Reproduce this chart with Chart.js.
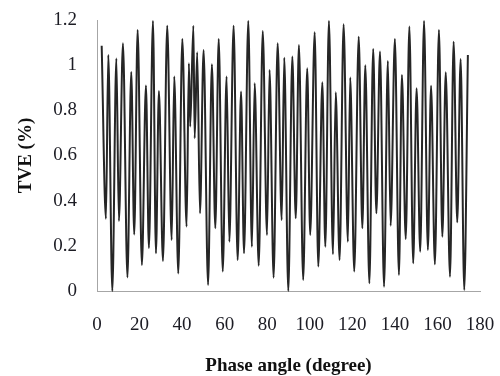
<!DOCTYPE html>
<html>
<head>
<meta charset="utf-8">
<script src="https://cdn.jsdelivr.net/npm/chart.js@4.4.1/dist/chart.umd.min.js"></script>
<style>
  html, body { margin: 0; padding: 0; background: #ffffff; }
  #wrap { width: 500px; height: 376px; }
</style>
</head>
<body>
<div id="wrap"><canvas id="tveChart" width="500" height="376"></canvas></div>
<script>
// Peaks and troughs
const phaseAngle = [2.2, 4.2, 5.3, 7.2, 9.1, 10.3, 12.2, 14.3, 16.1, 17.5,
    19.1, 21.1, 23.0, 24.4, 26.3, 27.7, 29.1, 31.0, 33.0, 35.1,
    36.3, 38.2, 40.1, 42.1, 43.2, 43.8, 45.3, 45.9, 47.1, 48.4,
    50.1, 52.2, 54.0, 55.6, 57.2, 59.1, 60.9, 62.2, 64.2, 66.1,
    67.7, 69.1, 71.1, 72.8, 74.1, 76.0, 77.9, 79.9, 81.1, 83.0,
    84.9, 86.8, 88.0, 89.9, 91.8, 93.4, 94.9, 96.9, 98.8, 100.2,
    102.3, 104.0, 105.9, 107.3, 109.0, 110.9, 112.2, 114.0, 115.9, 117.9,
    119.0, 120.9, 123.0, 124.7, 126.1, 128.0, 129.8, 131.3, 133.0, 134.9,
    136.7, 138.0, 140.0, 141.9, 143.3, 145.1, 146.8, 148.6, 150.2, 151.9,
    153.7, 155.5, 157.0, 158.8, 160.7, 162.3, 163.9, 165.9, 167.6, 169.3,
    170.9, 172.6, 174.3];

const tve = [1.086, 0.32, 1.045, 0.0, 1.03, 0.31, 1.097, 0.06, 0.97, 0.25,
    1.156, 0.115, 0.91, 0.19, 1.196, 0.167, 0.886, 0.133, 1.175, 0.226,
    0.95, 0.078, 1.116, 0.285, 1.008, 0.728, 1.175, 0.676, 1.057, 0.344,
    1.067, 0.027, 1.004, 0.278, 1.116, 0.086, 0.95, 0.218, 1.175, 0.137,
    0.883, 0.167, 1.196, 0.196, 0.92, 0.112, 1.151, 0.248, 0.979, 0.059,
    1.097, 0.314, 1.033, 0.0, 1.038, 0.322, 1.089, 0.049, 0.986, 0.248,
    1.146, 0.108, 0.924, 0.196, 1.196, 0.163, 0.88, 0.137, 1.181, 0.218,
    0.945, 0.086, 1.126, 0.278, 1.0, 0.034, 1.072, 0.344, 1.06, 0.019,
    1.019, 0.289, 1.116, 0.071, 0.957, 0.23, 1.171, 0.123, 0.898, 0.174,
    1.196, 0.182, 0.909, 0.118, 1.156, 0.24, 0.969, 0.063, 1.104, 0.304,
    1.027, 0.004, 1.045];

const xTicks = [0, 20, 40, 60, 80, 100, 120, 140, 160, 180];
const xTickLabels = ['0', '20', '40', '60', '80', '100', '120', '140', '160', '180'];
const yTicks = [0, 0.2, 0.4, 0.6, 0.8, 1, 1.2];
const yTickLabels = ['0', '0.2', '0.4', '0.6', '0.8', '1', '1.2'];

const serif = '"Liberation Serif", "Times New Roman", serif';
const textColor = '#1c1c24';
const axisColor = '#a6a6a6';

const points = phaseAngle.map((p, i) => ({ x: p, y: tve[i] }));

new Chart(document.getElementById('tveChart'), {
    type: 'line',
    data: {
        datasets: [{
            data: points,
            borderColor: '#262626',
            borderWidth: 2,
            pointRadius: 0,
            fill: false,
            cubicInterpolationMode: 'monotone',
            clip: false
        }]
    },
    options: {
        responsive: false,
        animation: false,
        layout: { padding: { top: 20, right: 20, left: 0, bottom: 0 } },
        plugins: {
            legend: { display: false },
            tooltip: { enabled: false }
        },
        scales: {
            x: {
                type: 'linear',
                min: 0,
                max: 180,
                afterBuildTicks: scale => { scale.ticks = xTicks.map(v => ({ value: v })); },
                afterFit: scale => {
                    // fixed plot box: 97..480 horizontally
                    scale.height = 85;
                    scale.paddingLeft = 0;
                    scale.paddingRight = 0;
                },
                grid: { display: false, drawTicks: false },
                border: { display: true, color: axisColor, width: 1 },
                ticks: {
                    padding: 23,
                    color: textColor,
                    font: { family: serif, size: 19 },
                    maxRotation: 0,
                    callback: (v, i) => xTickLabels[i]
                },
                title: {
                    display: true,
                    text: 'Phase angle (degree)',
                    color: '#111',
                    font: { family: serif, size: 19, weight: 'bold', lineHeight: 1 },
                    padding: { top: 0, bottom: 0 }
                }
            },
            y: {
                min: 0,
                max: 1.2,
                afterBuildTicks: scale => { scale.ticks = yTicks.map(v => ({ value: v })); },
                afterFit: scale => {
                    // fixed plot box: 20..291 vertically
                    scale.width = 97;
                    scale.paddingTop = 0;
                    scale.paddingBottom = 0;
                },
                grid: { display: false, drawTicks: false },
                border: { display: true, color: axisColor, width: 1 },
                ticks: {
                    padding: 20,
                    color: textColor,
                    font: { family: serif, size: 19 },
                    callback: (v, i) => yTickLabels[i]
                },
                title: {
                    display: true,
                    text: 'TVE (%)',
                    color: '#111',
                    font: { family: serif, size: 19, weight: 'bold' },
                    padding: { top: 15, bottom: 0 }
                }
            }
        }
    }
});
</script>
</body>
</html>
